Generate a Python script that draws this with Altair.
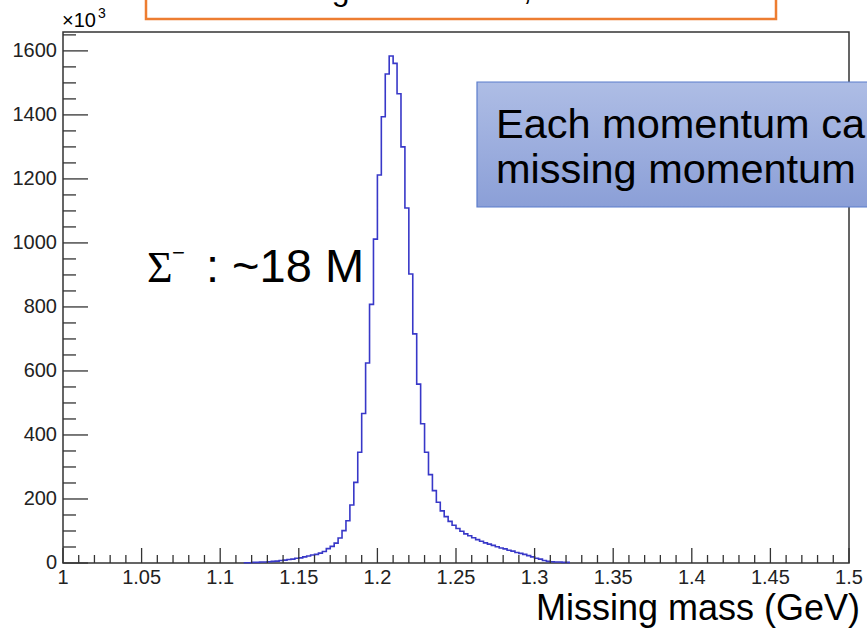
import altair as alt
import pandas as pd

# ---- histogram: missing-mass spectrum, entries per bin in units of 10^3 ----
bin_width = 0.0025
first_edge = 1.115          # left edge of the first non-empty bin
counts = [
    # 1.115 - 1.1925
    1, 1, 2, 2, 3, 3, 4, 5, 6, 8,
    9, 11, 12, 15, 16, 19, 22, 25, 27, 31,
    36, 45, 52, 62, 78, 101, 132, 181, 252, 346,
    467,
    # 1.1925 - 1.2275 (peak)
    625, 808, 1012, 1212, 1394, 1528, 1584, 1561, 1466, 1300,
    1109, 903, 716, 559,
    # 1.2275 - 1.3225 (high-mass tail)
    435, 346, 276, 226, 190, 163, 145, 130, 118, 108,
    99, 91, 85, 79, 73, 68, 63, 59, 55, 51,
    47, 44, 40, 37, 33, 30, 27, 23, 19, 15,
    12, 8, 5, 4, 3, 3, 2, 2,
]

x_domain = [1.0, 1.5]
y_domain = [0, 1659]
x_major = [1.0, 1.05, 1.1, 1.15, 1.2, 1.25, 1.3, 1.35, 1.4, 1.45, 1.5]
x_major_labels = ["1", "1.05", "1.1", "1.15", "1.2", "1.25", "1.3", "1.35", "1.4", "1.45", "1.5"]
x_minor = [round(1.0 + i * 0.01, 2) for i in range(51) if i % 5]
y_major = [0, 200, 400, 600, 800, 1000, 1200, 1400, 1600]
y_major_labels = ["0", "200", "400", "600", "800", "1000", "1200", "1400", "1600"]
y_minor = [i * 50 for i in range(34) if i % 4]

x_title = "Missing mass (GeV)"
header_text = "Missing mass for \u03c0\u207b, K\u207a"
note_text = "Each momentum calculated\nmissing momentum"
sigma_symbol = "\u03a3"
sigma_charge = "\u2212"
sigma_count = ": ~18 M"
exponent_base = "\u00d710"
exponent_power = "3"

W, H = 786, 531
FONT = "Liberation Sans"
LINE_BLUE = "#3838c8"
AXIS_COLOR = "#333333"

# step outline: bin left edges plus the closing right edge
edges = [round(first_edge + i * bin_width, 4) for i in range(len(counts) + 1)]
hist = pd.DataFrame({"mass": edges, "entries": counts + [counts[-1]]})

x_scale = alt.Scale(domain=x_domain, nice=False, zero=False)
y_scale = alt.Scale(domain=y_domain, nice=False, zero=True)
X = lambda: alt.X("mass:Q", scale=x_scale, axis=None)
Y = lambda: alt.Y("entries:Q", scale=y_scale, axis=None)

line = alt.Chart(hist).mark_line(
    interpolate="step-after", color=LINE_BLUE, strokeWidth=1.6
).encode(x=X(), y=Y())

# inward-pointing ticks on the bottom and left edges
def x_ticks(values, length):
    return alt.Chart(pd.DataFrame({"mass": values})).mark_rule(
        color=AXIS_COLOR, strokeWidth=1.3
    ).encode(x=X(), y=alt.value(H), y2=alt.value(H - length))

def y_ticks(values, length):
    return alt.Chart(pd.DataFrame({"entries": values})).mark_rule(
        color=AXIS_COLOR, strokeWidth=1.3
    ).encode(y=Y(), x=alt.value(0), x2=alt.value(length))

# tick labels
x_labels = alt.Chart(pd.DataFrame({"mass": x_major, "lab": x_major_labels})).mark_text(
    font=FONT, fontSize=20, color="#222222", align="center", baseline="top"
).encode(x=X(), y=alt.value(H + 5), text="lab:N")

y_labels = alt.Chart(pd.DataFrame({"entries": y_major, "lab": y_major_labels})).mark_text(
    font=FONT, fontSize=20, color="#222222", align="right", baseline="middle"
).encode(y=Y(), x=alt.value(-6), text="lab:N")

one = pd.DataFrame({"k": [0]})

def label(text, x, y, size, font=FONT, align="left", baseline="alphabetic", **kw):
    return alt.Chart(pd.DataFrame({"t": [text]})).mark_text(
        text=text, font=font, fontSize=size, align=align, baseline=baseline,
        color="#000000", **kw
    ).encode(x=alt.value(x), y=alt.value(y))

title = label(x_title, 797, 588, 36, align="right")

# header box (cut by the top of the page)
header_box = alt.Chart(one).mark_rect(
    fill="white", stroke="#ed7d31", strokeWidth=2.5
).encode(x=alt.value(83), x2=alt.value(713), y=alt.value(-80), y2=alt.value(-13))
header = label(header_text, 178, -32, 32)

# blue note box on the right
note_box = alt.Chart(one).mark_rect(
    fill=alt.LinearGradient(
        gradient="linear",
        stops=[alt.GradientStop(color="#aebde5", offset=0),
               alt.GradientStop(color="#8b9fd7", offset=1)],
        x1=0, x2=0, y1=0, y2=1,
    ),
    stroke="#5b7ccc", strokeWidth=1.2,
).encode(x=alt.value(414), x2=alt.value(830), y=alt.value(50), y2=alt.value(175))
note = label(note_text, 433, 106, 41.5, lineBreak="\n", lineHeight=45)

# yield annotation
sig1 = label(sigma_symbol, 84, 250, 44, font="Liberation Serif")
sig2 = label(sigma_charge, 109, 221, 22, baseline="middle")
sig3 = label(sigma_count, 143, 250, 47)

# axis exponent
exp1 = label(exponent_base, -1, -5, 20)
exp2 = label(exponent_power, 35, -14, 14)

chart = alt.layer(
    line,
    x_ticks(x_minor, 8), x_ticks(x_major, 15),
    y_ticks(y_minor, 13), y_ticks(y_major, 25),
    x_labels, y_labels, title,
    header_box, header,
    note_box, note,
    sig1, sig2, sig3,
    exp1, exp2,
).properties(
    width=W, height=H,
    autosize=alt.AutoSizeParams(type="none"),
    padding={"left": 63, "top": 32, "right": 18, "bottom": 66},
    background="white",
).configure_view(
    stroke=AXIS_COLOR, strokeWidth=1.5
)

chart.save("out.html", embed_options={"renderer": "svg", "actions": False})
